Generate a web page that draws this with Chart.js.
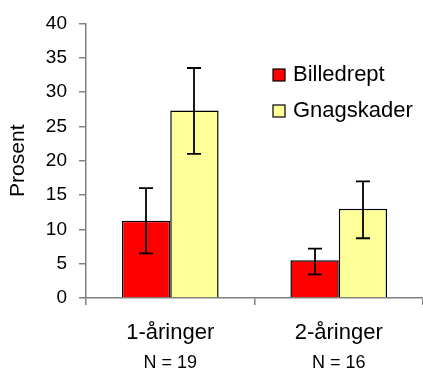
<!DOCTYPE html>
<html>
<head>
<meta charset="utf-8">
<script src="https://cdn.jsdelivr.net/npm/chart.js@4.4.0/dist/chart.umd.min.js"></script>
<style>
  html, body { margin: 0; padding: 0; background: #fff; }
  #wrap { width: 423px; height: 371px; position: relative; }
</style>
</head>
<body>
<div id="wrap"><canvas id="chart"></canvas></div>
<script>
// data
const categories = ["1-åringer", "2-åringer"];
const sampleSizes = ["N = 19", "N = 16"];
const seriesNames = ["Billedrept", "Gnagskader"];
const billedrept = [11.25, 5.5];
const billedreptLow = [6.5, 3.45];
const billedreptHigh = [16.0, 7.2];
const gnagskader = [27.3, 13.0];
const gnagskaderLow = [21.0, 8.7];
const gnagskaderHigh = [33.5, 17.0];
const yTicks = [0, 5, 10, 15, 20, 25, 30, 35, 40];

const FONT = "'Liberation Sans', Arial, sans-serif";
const axisGray = "#808080";

const errorBars = {
	id: 'errorBars',
	afterDatasetsDraw(chart) {
		const ctx = chart.ctx;
		const y = chart.scales.y;
		ctx.save();
		ctx.strokeStyle = "#000";
		ctx.lineWidth = 1.8;
		chart.data.datasets.forEach((ds, di) => {
			const meta = chart.getDatasetMeta(di);
			meta.data.forEach((bar, i) => {
				const top = y.getPixelForValue(ds.errHigh[i]);
				const bot = y.getPixelForValue(ds.errLow[i]);
				const x = Math.round(bar.x);
				ctx.beginPath();
				ctx.moveTo(x, top);
				ctx.lineTo(x, bot);
				ctx.moveTo(x - 7, top);
				ctx.lineTo(x + 7, top);
				ctx.moveTo(x - 7, bot);
				ctx.lineTo(x + 7, bot);
				ctx.stroke();
			});
		});
		ctx.restore();
	}
};

const boxLegend = {
	id: 'boxLegend',
	afterDraw(chart) {
		const ctx = chart.ctx;
		ctx.save();
		ctx.font = "22px " + FONT;
		ctx.textBaseline = 'middle';
		chart.data.datasets.forEach((ds, i) => {
			const cy = 75 + i * 36;
			ctx.fillStyle = ds.backgroundColor;
			ctx.fillRect(273, cy - 6, 12, 12);
			ctx.strokeStyle = "#000";
			ctx.lineWidth = 1.2;
			ctx.strokeRect(273, cy - 6, 12, 12);
			ctx.fillStyle = "#000";
			ctx.fillText(ds.label, 293, cy);
		});
		ctx.restore();
	}
};

new Chart(document.getElementById('chart'), {
	type: 'bar',
	data: {
		labels: categories,
		datasets: [
		{
			label: seriesNames[0],
			data: billedrept,
			errLow: billedreptLow,
			errHigh: billedreptHigh,
			backgroundColor: "#ff0000",
			borderColor: "#000",
			borderWidth: 1.5
		}, {
			label: seriesNames[1],
			data: gnagskader,
			errLow: gnagskaderLow,
			errHigh: gnagskaderHigh,
			backgroundColor: "#ffff99",
			borderColor: "#000",
			borderWidth: 1.5
		}]
	},
	options: {
		responsive: true,
		maintainAspectRatio: false,
		animation: false,
		categoryPercentage: 0.574,
		barPercentage: 1,
		layout: { padding: { top: 20, right: 0, bottom: 0, left: 0 } },
		plugins: {
			legend: { display: false },
			tooltip: { enabled: false }
		},
		scales: {
			x: {
				position: 'bottom',
				grid: { offset: true, drawOnChartArea: false, drawTicks: true, tickLength: 7, color: axisGray, lineWidth: 1.5 },
				border: { color: axisGray, width: 1.5 },
				ticks: { color: "#000", font: { family: FONT, size: 22 }, padding: 15 },
				afterFit(scale) { scale.height = 50; }
			},
			x2: {
				type: 'category',
				position: 'bottom',
				labels: sampleSizes,
				grid: { display: false, drawTicks: false },
				border: { display: false },
				ticks: { color: "#000", font: { family: FONT, size: 18 }, padding: 4 },
				afterFit(scale) { scale.height = 23; }
			},
			y: {
				min: 0,
				max: 40,
				afterBuildTicks(scale) { scale.ticks = yTicks.map(v => ({ value: v })); },
				grid: { drawOnChartArea: false, drawTicks: true, tickLength: 7, color: axisGray, lineWidth: 1.5 },
				border: { color: axisGray, width: 1.5 },
				ticks: { color: "#000", font: { family: FONT, size: 19 }, padding: 12 },
				title: { display: true, text: "Prosent", color: "#000", font: { family: FONT, size: 21 }, padding: { top: 6, bottom: 0 } },
				afterFit(scale) { scale.width = 86; }
			}
		}
	},
	plugins: [errorBars, boxLegend]
});
</script>
</body>
</html>
